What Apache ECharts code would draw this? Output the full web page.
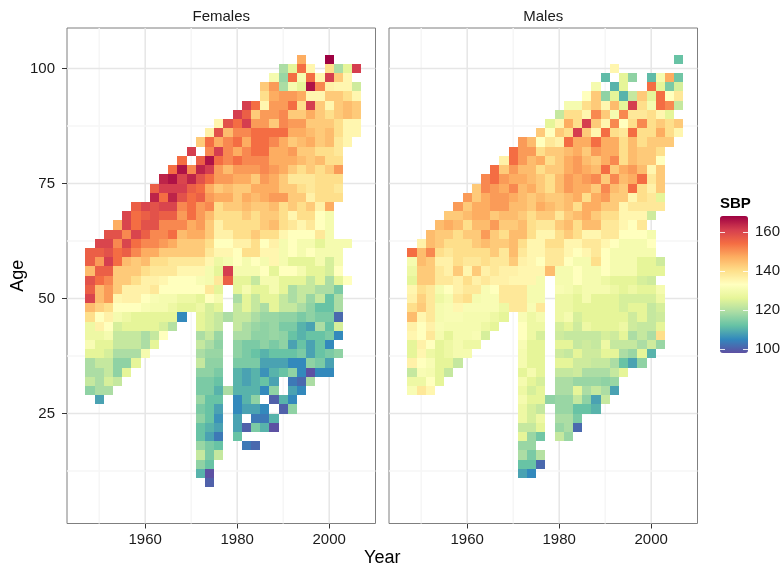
<!DOCTYPE html>
<html><head><meta charset="utf-8">
<script src="https://cdn.jsdelivr.net/npm/echarts@6/dist/echarts.min.js"></script>
<style>html,body{margin:0;padding:0;background:#fff}#chart{width:782px;height:573px}</style>
</head><body><div id="chart"></div>
<script>
// ---------------- data ----------------
const years = [1948,1950,1952,1954,1956,1958,1960,1962,1964,1966,1968,1970,1972,1974,1976,1978,1980,1982,1984,1986,1988,1990,1992,1994,1996,1998,2000,2002,2004,2006];

// first (lowest) age of each year column; values go upward in 2-year age steps
const femaleFirstAge = [30,28,30,32,34,36,38,40,42,44,46,48,12,10,16,30,20,18,18,22,22,26,26,30,32,34,34,38,54,86];
const maleFirstAge   = [30,30,30,32,34,36,38,40,42,44,46,48,12,12,14,28,20,20,22,26,26,28,30,34,36,36,38,40,84,86];

// Females: mean SBP per (year, age) cell
const f1948 = [116,122,119,119,126,131,128,128,140,145,160,156,158,145,156,156];
const f1950 = [108,119,119,119,122,126,126,128,136,133,142,145,145,154,156,149,156,160];
const f1952 = [119,124,122,122,124,126,130,133,136,140,149,149,151,156,161,158,160,158];
const f1954 = [122,116,116,119,122,122,124,130,133,135,143,143,143,154,154,151,158,147];
const f1956 = [126,116,119,122,122,126,128,133,136,136,143,143,145,156,160,151,160,160];
const f1958 = [126,119,122,122,126,126,133,136,136,140,143,143,151,154,160,154,154,156];
const f1960 = [130,119,119,126,126,131,133,136,136,140,145,147,151,156,158,156,160];
const f1962 = [126,122,126,126,130,131,138,136,138,140,147,151,151,158,158,158,164,156];
const f1964 = [133,124,126,130,130,133,135,138,140,143,149,151,151,156,160,154,161,164];
const f1966 = [120,126,128,130,133,133,138,138,143,147,154,151,156,160,164,161,166,154];
const f1968 = [105,126,128,133,133,135,138,143,143,145,151,149,151,158,161,160,166,154];
const f1970 = [126,128,133,133,135,138,143,143,147,147,154,154,154,156,164,151,null,161];
const f1972 = [110,116,122,117,112,112,116,114,117,114,114,116,122,119,122,119,126,126,128,126,133,131,135,138,143,143,147,149,149,149,156,154,158,164,156,null,143];
const f1974 = [100,98,112,114,114,108,110,112,112,112,114,114,116,116,117,119,122,124,124,124,133,138,130,130,135,138,140,143,143,145,151,149,147,154,161,166,151,154,136];
const f1976 = [122,112,103,108,106,108,112,110,112,114,116,117,116,117,122,122,126,130,126,138,126,128,135,133,136,136,140,140,147,143,149,149,154,161,147,158,135];
const f1978 = [119,null,null,null,null,null,null,null,119,null,null,null,156,161,130,135,133,136,140,140,143,147,145,149,145,151,151,151,145,158];
const f1980 = [112,108,108,105,105,110,110,110,114,116,116,119,122,122,122,119,126,126,130,133,133,136,140,140,140,143,143,143,147,149,154,147,154,151,154,161];
const f1982 = [103,null,100,null,108,110,110,108,108,114,114,114,119,119,122,126,126,130,126,130,130,140,136,140,140,143,145,147,143,147,149,151,151,147,151,161,156,161];
const f1984 = [101,null,114,103,108,116,110,110,110,114,112,114,116,117,119,122,122,126,122,130,133,140,140,143,140,140,143,145,147,143,149,151,154,154,154,149,143,154];
const f1986 = [110,103,105,null,105,112,106,108,110,116,116,116,117,119,126,126,130,133,130,135,133,140,143,143,143,147,147,149,151,151,154,154,154,149,149,135,140,143];
const f1988 = [98,110,null,100,116,108,110,108,112,114,117,117,117,126,126,130,130,126,135,135,136,140,145,143,145,149,147,147,149,147,147,151,154,143,149,149,147,149,130];
const f1990 = [100,110,null,null,112,108,112,116,116,114,116,122,122,126,126,133,130,130,130,135,140,140,140,149,143,143,147,147,147,147,154,151,151,149,149,119,117,119];
const f1992 = [116,105,108,103,116,105,112,108,112,114,116,122,119,119,126,133,126,133,133,133,138,135,143,143,143,138,143,147,149,143,147,149,143,154,149,130,154,126];
const f1994 = [105,101,105,105,114,112,110,110,114,119,122,122,126,130,126,130,130,133,135,140,140,143,140,138,140,145,143,145,147,149,143,140,147,126,130,154,147];
const f1996 = [119,98,116,108,108,112,108,116,116,117,122,122,126,126,133,130,133,138,140,143,136,138,138,143,143,143,147,145,143,147,161,135,166,154,135];
const f1998 = [105,114,112,112,112,119,114,112,122,119,126,126,130,130,126,138,133,133,136,140,140,140,140,145,140,143,143,143,143,143,135,151,135];
const f2000 = [105,108,114,105,114,112,114,112,112,119,119,124,124,130,130,130,130,130,147,140,140,140,143,140,140,145,145,143,140,135,143,136,161,140,168];
const f2002 = [116,null,105,124,101,119,119,114,126,133,130,130,130,null,null,null,null,140,138,140,149,140,138,138,140,140,143,143,143,135,143,119];
const f2004 = [133,null,null,null,130,null,null,null,null,null,null,null,null,null,null,135,135,135,145,145,140,135,135,126];
const f2006 = [135,135,143,143,135,123,null,161];

// Males
const m1948 = [131,128,122,136,126,126,135,136,145,140,136,135,126,128,130,154];
const m1950 = [138,128,131,133,135,136,133,133,135,143,142,140,143,143,145,145,136];
const m1952 = [135,133,130,131,128,133,138,136,138,138,138,138,143,143,143,151,145,145];
const m1954 = [126,126,126,126,126,130,131,130,130,128,130,138,138,136,140,143,143,145];
const m1956 = [122,126,128,128,126,130,131,131,130,133,138,136,136,138,140,143,147,143];
const m1958 = [122,130,130,130,130,131,135,138,136,136,143,140,140,140,140,145,143,149];
const m1960 = [130,128,130,130,130,131,140,138,140,135,138,140,140,143,140,145,143,149];
const m1962 = [128,131,130,130,131,130,138,136,143,138,140,143,143,145,147,147,143,143];
const m1964 = [124,128,130,131,131,131,138,136,140,140,145,149,145,147,147,147,151,151];
const m1966 = [126,128,131,131,133,136,138,138,143,143,143,149,143,149,149,149,154,154];
const m1968 = [126,128,138,138,136,136,138,138,143,140,143,145,149,149,147,149,143,136];
const m1970 = [138,138,138,135,136,143,145,145,145,143,145,145,147,151,147,149,154,154];
const m1972 = [108,112,119,117,126,122,128,128,130,128,130,126,130,130,131,133,133,131,138,138,138,135,135,136,138,140,145,145,143,145,145,145,147,145,149,149,149];
const m1974 = [105,112,114,117,117,122,124,124,126,124,126,130,126,126,126,128,128,128,131,130,130,135,135,135,135,135,140,140,140,143,143,147,145,145,145,149,145];
const m1976 = [101,120,null,113,126,128,122,126,126,124,126,126,126,126,124,128,130,138,130,130,130,135,133,135,135,135,138,143,147,145,143,143,140,147,140,133,143];
const m1978 = [116,null,null,null,null,null,null,null,null,null,null,null,null,null,145,138,138,140,135,138,143,145,143,140,140,143,140,143,138,133,126];
const m1980 = [122,117,119,117,117,119,119,122,126,123,126,123,124,128,128,128,131,130,130,138,138,140,140,143,138,143,143,145,145,143,143,143,136,143,135,122];
const m1982 = [117,119,119,117,117,119,119,122,126,122,126,122,126,130,128,128,130,130,130,133,135,135,143,145,143,145,145,149,149,147,147,145,154,140,147,140,130];
const m1984 = [101,114,112,122,126,117,123,123,126,122,122,123,124,126,126,128,133,133,130,133,135,140,140,145,140,147,147,147,149,149,147,147,161,140,140,130];
const m1986 = [112,116,119,117,119,123,123,123,122,128,126,126,130,130,130,130,130,135,138,135,145,147,147,140,147,149,147,145,143,147,143,161,135,140,133];
const m1988 = [110,108,122,117,119,122,123,122,122,126,126,126,126,130,130,130,140,138,138,135,145,143,147,147,143,151,145,143,149,154,135,143,151,143,143,130];
const m1990 = [122,119,116,119,122,126,128,124,126,126,126,126,130,128,133,133,133,135,138,138,140,143,149,151,143,154,147,147,147,154,135,143,135,116,null,111];
const m1992 = [108,117,122,119,126,122,123,126,126,126,126,128,126,130,130,130,133,138,138,140,143,143,145,151,143,151,147,147,140,151,130,145,126,110,null,135];
const m1994 = [126,112,119,122,126,128,126,124,124,126,126,130,130,130,130,133,135,135,135,143,143,145,147,140,140,140,138,133,151,126,110,126,126];
const m1996 = [108,117,122,119,123,123,126,124,128,126,130,130,130,130,133,133,135,138,135,154,147,149,145,145,145,154,140,138,161,122,null,116];
const m1998 = [116,126,119,122,122,126,126,124,126,124,126,126,130,130,133,138,135,138,140,140,154,145,143,143,140,140,151,138,140,143];
const m2000 = [110,123,119,122,122,122,124,126,123,126,126,130,133,130,null,123,138,138,136,138,135,143,143,143,140,140,140,130,126,154,111];
const m2002 = [117,140,126,123,124,128,130,null,126,123,null,null,null,null,null,138,126,143,143,143,133,140,143,147,143,135,154,154,126,130];
const m2004 = [143,140,140,126,151,133,114,147];
const m2006 = [135,143,null,122,138,124,113,null,112];

const femaleCols = [f1948,f1950,f1952,f1954,f1956,f1958,f1960,f1962,f1964,f1966,f1968,f1970,f1972,f1974,f1976,f1978,f1980,f1982,f1984,f1986,f1988,f1990,f1992,f1994,f1996,f1998,f2000,f2002,f2004,f2006];
const maleCols = [m1948,m1950,m1952,m1954,m1956,m1958,m1960,m1962,m1964,m1966,m1968,m1970,m1972,m1974,m1976,m1978,m1980,m1982,m1984,m1986,m1988,m1990,m1992,m1994,m1996,m1998,m2000,m2002,m2004,m2006];

const panelNames = ['Females', 'Males'];
const xTickValues = [1960, 1980, 2000];
const xMinorValues = [1950, 1970, 1990];
const yTickValues = [25, 50, 75, 100];
const yMinorValues = [12.5, 37.5, 62.5, 87.5];
const legendTicks = [100, 120, 140, 160];
const SBP_MIN = 97.8, SBP_MAX = 168;

// ---------------- layout / style ----------------
const X_MIN = 1943, X_MAX = 2010.07, Y_MIN = 1.1, Y_MAX = 108.8;
const FONT = "'Liberation Sans', Arial, Helvetica, sans-serif";
const TXT = '#1a1a1a';
const spectralRev = ['#5E4FA2','#3288BD','#66C2A5','#ABDDA4','#E6F598','#FFFFBF','#FEE08B','#FDAE61','#F46D43','#D53E4F','#9E0142'];
const grids = [
  {left: 67, top: 28, width: 308.5, height: 495.5},
  {left: 389, top: 28, width: 308.5, height: 495.5}
];
const LEG = {left: 720, top: 216, w: 28, h: 137};

function buildTiles(firstAges, cols) {
  const out = [];
  cols.forEach((vals, i) => vals.forEach((v, j) => {
    if (v !== null) out.push([years[i], firstAges[i] + 2 * j, v]);
  }));
  return out;
}
function buildGridLines() {
  const out = [];
  xMinorValues.forEach(v => out.push([v, Y_MIN, 0, 0]));
  xTickValues.forEach(v => out.push([v, Y_MIN, 0, 1]));
  yMinorValues.forEach(v => out.push([X_MIN, v, 1, 0]));
  yTickValues.forEach(v => out.push([X_MIN, v, 1, 1]));
  return out;
}
function renderTile(params, api) {
  const yr = api.value(0), age = api.value(1);
  const a = api.coord([yr - 1, age + 1]);
  const b = api.coord([yr + 1, age - 1]);
  const x0 = Math.round(a[0]), y0 = Math.round(a[1]);
  const x1 = Math.round(b[0]), y1 = Math.round(b[1]);
  return {type: 'rect', shape: {x: x0, y: y0, width: x1 - x0, height: y1 - y0},
          style: {fill: api.visual('color')}};
}
function renderGridLine(params, api) {
  const orient = api.value(2), major = api.value(3);
  let p0, p1;
  if (orient === 0) {
    const v = api.value(0);
    p0 = api.coord([v, Y_MIN]); p1 = api.coord([v, Y_MAX]);
  } else {
    const v = api.value(1);
    p0 = api.coord([X_MIN, v]); p1 = api.coord([X_MAX, v]);
  }
  return {type: 'line', shape: {x1: p0[0], y1: p0[1], x2: p1[0], y2: p1[1]},
          style: {stroke: major ? '#E6E6E6' : '#F6F6F6', lineWidth: 1.5}};
}

const chart = echarts.init(document.getElementById('chart'), null, {renderer: 'canvas'});

const xAxes = grids.map((g, i) => ({
  gridIndex: i, type: 'value', min: X_MIN, max: X_MAX,
  axisLine: {show: false}, splitLine: {show: false},
  axisTick: {show: true, customValues: xTickValues, length: 5, lineStyle: {color: '#333', width: 1}},
  axisLabel: {show: true, customValues: xTickValues, margin: 9, fontSize: 15, color: TXT, fontFamily: FONT,
              formatter: v => String(v)}
}));
const yAxes = grids.map((g, i) => ({
  gridIndex: i, type: 'value', min: Y_MIN, max: Y_MAX,
  axisLine: {show: false}, splitLine: {show: false},
  axisTick: {show: i === 0, customValues: yTickValues, length: 5, lineStyle: {color: '#333', width: 1}},
  axisLabel: {show: i === 0, customValues: yTickValues, margin: 12, fontSize: 15, color: TXT, fontFamily: FONT,
              formatter: v => String(v)}
}));

const series = [];
grids.forEach((g, i) => series.push({
  type: 'custom', xAxisIndex: i, yAxisIndex: i, z: 1, silent: true,
  renderItem: renderGridLine, data: buildGridLines()
}));
series.push({type: 'custom', name: 'Females', xAxisIndex: 0, yAxisIndex: 0, z: 2, silent: true,
  renderItem: renderTile, data: buildTiles(femaleFirstAge, femaleCols)});
series.push({type: 'custom', name: 'Males', xAxisIndex: 1, yAxisIndex: 1, z: 2, silent: true,
  renderItem: renderTile, data: buildTiles(maleFirstAge, maleCols)});

const legY = v => LEG.top + (SBP_MAX - v) / (SBP_MAX - SBP_MIN) * LEG.h;
const graphic = [];
panelNames.forEach((name, i) => graphic.push({
  type: 'text', x: grids[i].left + grids[i].width / 2, y: 17, silent: true,
  style: {text: name, fontSize: 15, fontFamily: FONT, fill: TXT, align: 'center', verticalAlign: 'middle'}
}));
graphic.push({type: 'text', x: (grids[0].left + grids[1].left + grids[1].width) / 2, y: 558, silent: true,
  style: {text: 'Year', fontSize: 18, fontFamily: FONT, fill: '#000', align: 'center', verticalAlign: 'middle'}});
graphic.push({type: 'text', x: 18, y: grids[0].top + grids[0].height / 2, rotation: Math.PI / 2, silent: true,
  style: {text: 'Age', fontSize: 18, fontFamily: FONT, fill: '#000', align: 'center', verticalAlign: 'middle'}});
graphic.push({type: 'text', x: LEG.left, y: 204, silent: true,
  style: {text: 'SBP', fontSize: 15, fontWeight: 'bold', fontFamily: FONT, fill: '#000', align: 'left', verticalAlign: 'middle'}});
legendTicks.forEach(v => {
  const y = Math.round(legY(v)) + 0.5;
  graphic.push({type: 'line', silent: true, z: 100, shape: {x1: LEG.left, y1: y, x2: LEG.left + 5, y2: y},
    style: {stroke: 'rgba(255,255,255,0.85)', lineWidth: 1}});
  graphic.push({type: 'line', silent: true, z: 100, shape: {x1: LEG.left + LEG.w - 5, y1: y, x2: LEG.left + LEG.w, y2: y},
    style: {stroke: 'rgba(255,255,255,0.85)', lineWidth: 1}});
  graphic.push({type: 'text', silent: true, x: LEG.left + LEG.w + 7, y: legY(v),
    style: {text: String(v), fontSize: 15, fontFamily: FONT, fill: TXT, align: 'left', verticalAlign: 'middle'}});
});

chart.setOption({
  animation: false,
  backgroundColor: '#fff',
  grid: grids.map(g => Object.assign({show: true, borderColor: '#7F7F7F', borderWidth: 1, backgroundColor: '#fff'}, g)),
  xAxis: xAxes,
  yAxis: yAxes,
  visualMap: {
    type: 'continuous', min: SBP_MIN, max: SBP_MAX, dimension: 2, seriesIndex: [2, 3],
    inRange: {color: spectralRev}, calculable: false, realtime: false,
    left: LEG.left, top: LEG.top, padding: 0, itemWidth: LEG.w, itemHeight: LEG.h,
    text: null, showLabel: false, hoverLink: false
  },
  series: series,
  graphic: graphic
});
</script>
</body></html>
